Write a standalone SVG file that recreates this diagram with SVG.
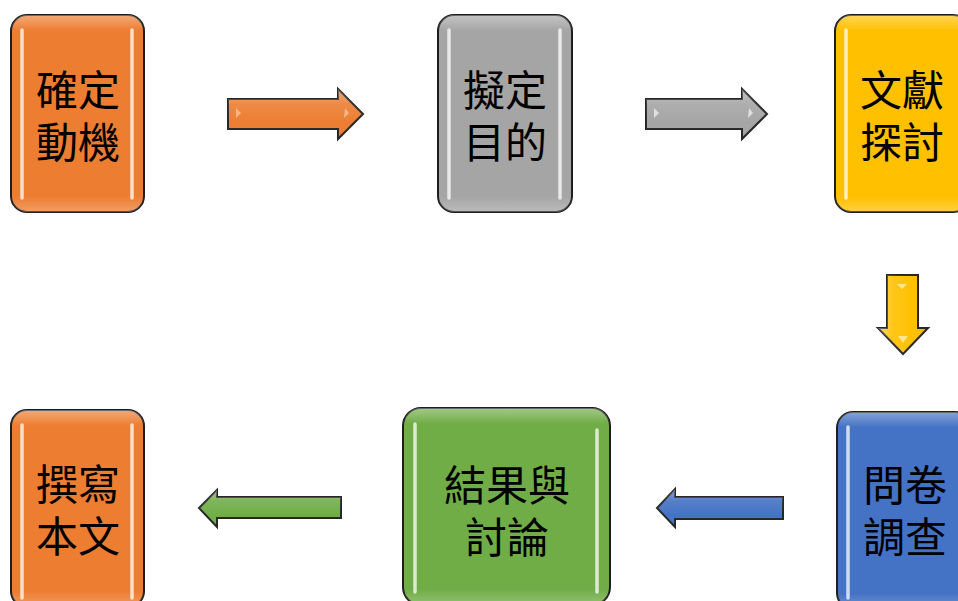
<svg xmlns="http://www.w3.org/2000/svg" width="958" height="601" viewBox="0 0 958 601">
<defs>
<style>
.box{stroke:#1e1e1e;stroke-width:2}
.arr{stroke:#262626;stroke-width:2;stroke-linejoin:miter}
.hl{stroke:#fff;stroke-opacity:0.75;stroke-width:3.5;stroke-linecap:round;fill:none}
.lbl{font-family:"Noto Sans CJK TC","Noto Sans CJK SC",sans-serif;font-size:42px;fill:#000;text-anchor:middle;dominant-baseline:central}
</style>
<linearGradient id="shade" x1="0" y1="0" x2="0" y2="1">
<stop offset="0" stop-color="#fff" stop-opacity="0.35"/>
<stop offset="0.08" stop-color="#fff" stop-opacity="0"/>
<stop offset="0.92" stop-color="#fff" stop-opacity="0"/>
<stop offset="1" stop-color="#fff" stop-opacity="0.25"/>
</linearGradient>
<linearGradient id="ashade" x1="0" y1="0" x2="0" y2="1">
<stop offset="0" stop-color="#fff" stop-opacity="0.35"/>
<stop offset="0.3" stop-color="#fff" stop-opacity="0.1"/>
<stop offset="0.7" stop-color="#fff" stop-opacity="0"/>
<stop offset="1" stop-color="#000" stop-opacity="0.1"/>
</linearGradient>
<linearGradient id="ashadeV" x1="0" y1="0" x2="1" y2="0">
<stop offset="0" stop-color="#fff" stop-opacity="0.35"/>
<stop offset="0.3" stop-color="#fff" stop-opacity="0.1"/>
<stop offset="0.7" stop-color="#fff" stop-opacity="0"/>
<stop offset="1" stop-color="#000" stop-opacity="0.1"/>
</linearGradient>
</defs>
<rect width="958" height="601" fill="#fff"/>

<g id="connectors">
  <g id="a1">
    <path class="arr" fill="#ED7D31" d="M228,99 H338 V89 L363,114 L338,139 V129 H228 Z"/>
    <path fill="url(#ashade)" d="M228,99 H338 V89 L363,114 L338,139 V129 H228 Z"/>
    <path fill="#f7c39a" d="M236,108 L241,113 L236,118 Z M345,108 L349,113 L344,118 Z" opacity="0.8"/>
  </g>
  <g id="a2">
    <path class="arr" fill="#A5A5A5" d="M646,99 H742 V89 L767,114 L742,139 V129 H646 Z"/>
    <path fill="url(#ashade)" d="M646,99 H742 V89 L767,114 L742,139 V129 H646 Z"/>
    <path fill="#eeeeee" d="M654,108 L659,113 L654,118 Z M749,108 L753,113 L748,118 Z" opacity="0.8"/>
  </g>
  <g id="a3">
    <path class="arr" fill="#FFC000" d="M887,275 H918 V328 H928 L903,354 L878,328 H887 Z"/>
    <path fill="url(#ashadeV)" d="M887,275 H918 V328 H928 L903,354 L878,328 H887 Z"/>
    <path fill="#fff0b0" d="M897,284 L907,284 L902,289 Z M898,336 L908,336 L903,343 Z" opacity="0.8"/>
  </g>
  <g id="a4">
    <path class="arr" fill="#4472C4" d="M783,497 H675 V489 L657,508 L675,527 V519 H783 Z"/>
    <path fill="url(#ashade)" d="M783,497 H675 V489 L657,508 L675,527 V519 H783 Z"/>
  </g>
  <g id="a5">
    <path class="arr" fill="#70AD47" d="M341,497 H217 V490 L199,508 L217,527 V518 H341 Z"/>
    <path fill="url(#ashade)" d="M341,497 H217 V490 L199,508 L217,527 V518 H341 Z"/>
  </g>
</g>

<g id="n1">
  <rect class="box" x="11" y="15" width="133" height="197" rx="16" fill="#ED7D31"/>
  <rect x="11" y="15" width="133" height="197" rx="16" fill="url(#shade)"/>
  <line class="hl" x1="22" y1="30" x2="22" y2="198"/>
  <line class="hl" x1="132" y1="30" x2="132" y2="198"/>
  <text class="lbl"><tspan x="78" y="87">確定</tspan><tspan x="78" y="139">動機</tspan></text>
</g>
<g id="n2">
  <rect class="box" x="438" y="15" width="134" height="197" rx="16" fill="#A5A5A5"/>
  <rect x="438" y="15" width="134" height="197" rx="16" fill="url(#shade)"/>
  <line class="hl" x1="449" y1="30" x2="449" y2="198"/>
  <line class="hl" x1="560" y1="30" x2="560" y2="198"/>
  <text class="lbl"><tspan x="505" y="87">擬定</tspan><tspan x="505" y="139">目的</tspan></text>
</g>
<g id="n3">
  <rect class="box" x="835" y="15" width="134" height="197" rx="16" fill="#FFC000"/>
  <rect x="835" y="15" width="134" height="197" rx="16" fill="url(#shade)"/>
  <line class="hl" x1="846" y1="30" x2="846" y2="198"/>
  <text class="lbl"><tspan x="902" y="87">文獻</tspan><tspan x="902" y="139">探討</tspan></text>
</g>
<g id="n4">
  <rect class="box" x="837" y="412" width="134" height="197" rx="16" fill="#4472C4"/>
  <rect x="837" y="412" width="134" height="197" rx="16" fill="url(#shade)"/>
  <line class="hl" x1="848" y1="427" x2="848" y2="598"/>
  <text class="lbl"><tspan x="905" y="482">問卷</tspan><tspan x="905" y="534">調查</tspan></text>
</g>
<g id="n5">
  <rect class="box" x="403" y="408" width="207" height="197" rx="18" fill="#70AD47"/>
  <rect x="403" y="408" width="207" height="197" rx="18" fill="url(#shade)"/>
  <line class="hl" x1="415" y1="424" x2="415" y2="592"/>
  <line class="hl" x1="597" y1="430" x2="597" y2="592"/>
  <text class="lbl"><tspan x="507" y="482">結果與</tspan><tspan x="507" y="534">討論</tspan></text>
</g>
<g id="n6">
  <rect class="box" x="11" y="410" width="133" height="197" rx="16" fill="#ED7D31"/>
  <rect x="11" y="410" width="133" height="197" rx="16" fill="url(#shade)"/>
  <line class="hl" x1="22" y1="425" x2="22" y2="598"/>
  <line class="hl" x1="132" y1="425" x2="132" y2="598"/>
  <text class="lbl"><tspan x="78" y="481">撰寫</tspan><tspan x="78" y="533">本文</tspan></text>
</g>
</svg>
